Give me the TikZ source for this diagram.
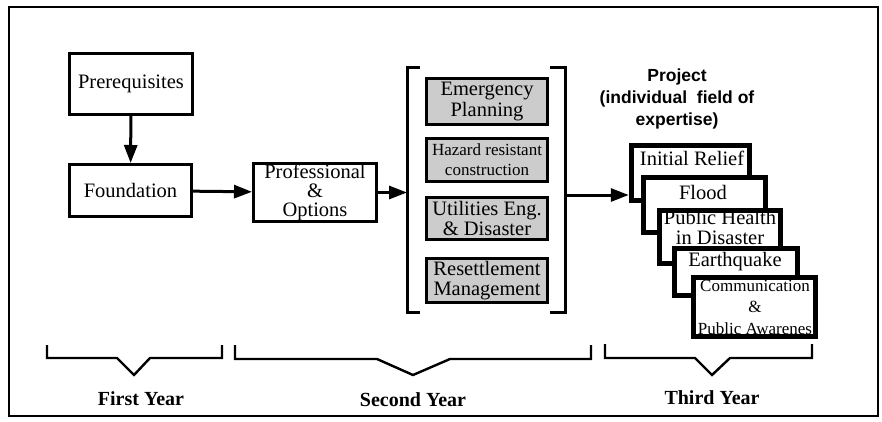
\documentclass[tikz,border=0pt]{standalone}
\usepackage{fontspec}
\setmainfont{Liberation Serif}
\newfontfamily\projfont{Liberation Sans}
\usetikzlibrary{arrows.meta}
\begin{document}
\begin{tikzpicture}[x=1pt,y=-1pt,
  box/.style={draw,line width=3pt,inner sep=0pt,align=center,font=\fontsize{20.5}{19}\selectfont},
  graybox/.style={draw,line width=3.5pt,fill=black!20,inner sep=0pt,align=center,minimum width=121pt},
  stackbox/.style={draw,line width=5.5pt,fill=white,inner sep=0pt},
  stacktext/.style={inner sep=0pt,align=center,font=\fontsize{20.5}{20}\selectfont},
  arr/.style={line width=3pt,-{Triangle[length=18pt,width=13pt]}},
  bracketline/.style={line width=3pt},
  brace/.style={line width=2.4pt,line join=miter},
  yearlabel/.style={font=\bfseries\fontsize{20}{24}\selectfont}
]
\useasboundingbox (0,0) rectangle (882,422);
\draw[line width=2.4pt] (9,7) rectangle (878,416);

% first year
\node[box,minimum width=123pt,minimum height=61pt] (pre) at (131,84) {Prerequisites};
\node[box,minimum width=122pt,minimum height=52pt] (fou) at (130.5,190.5) {Foundation};
\draw[arr] (pre) -- (fou);

% second year
\node[box,minimum width=123pt,minimum height=58pt] (pro) at (315,192.5) {Professional\\\&\\Options};
\draw[arr] (fou) -- (pro);

\node[graybox,minimum height=46pt,font=\fontsize{20.5}{21}\selectfont] (emg) at (487,101.5) {Emergency\\Planning};
\node[graybox,minimum height=43pt,font=\fontsize{17}{20}\selectfont] (haz) at (487,160) {Hazard resistant\\construction};
\node[graybox,minimum height=42pt,font=\fontsize{20.5}{20}\selectfont] (uti) at (487,218.5) {Utilities Eng.\\\& Disaster};
\node[graybox,minimum height=44pt,font=\fontsize{20.5}{20}\selectfont] (res) at (487,280.5) {Resettlement\\Management};

\draw[bracketline] (420,68) -- (407,68) -- (407,312) -- (420,312);
\draw[bracketline] (550,68) -- (565,68) -- (565,312) -- (550,312);
\coordinate (bl) at (407,192.5);
\coordinate (br) at (565,195);
\draw[arr] (pro.east) -- (bl);

% third year
\node[font=\projfont\bfseries\fontsize{17.5}{22}\selectfont,align=center] (proj) at (677,99) {Project\\(individual\ \ field of\\expertise)};

\node[stackbox,minimum width=118pt,minimum height=55pt] (s1) at (690.5,173) {};
\node[stackbox,minimum width=122pt,minimum height=55pt] (s2) at (704.5,205) {};
\node[stackbox,minimum width=121pt,minimum height=53pt] (s3) at (720,237) {};
\node[stackbox,minimum width=123pt,minimum height=47pt] (s4) at (736,272) {};
\node[stackbox,minimum width=122pt,minimum height=59pt] (s5) at (754.5,307) {};

\node[stacktext] (t1) at (692,158) {Initial Relief};
\node[stacktext] (t2) at (703,192) {Flood};
\node[stacktext] (t3) at (720,227) {Public Health\\in Disaster};
\node[stacktext] (t4) at (735,262) {Earthquake};
\node[stacktext,font=\fontsize{17}{21.5}\selectfont] (t5) at (755,307) {Communication\\\&\\Public Awarenes};

\draw[arr] (br) -- (s1.west |- br);

% braces
\draw[brace] (47,345) -- (47,358) -- (117,358) -- (134,375) -- (150,358) -- (222,358) -- (222,345);
\node[yearlabel] (y1) at (141,399) {First Year};
\draw[brace] (235,345) -- (235,359) -- (377,359) -- (413,375) -- (450,359) -- (591,359) -- (591,345);
\node[yearlabel] (y2) at (413,400) {Second Year};
\draw[brace] (605,344) -- (605,358) -- (695,358) -- (712,375) -- (730,358) -- (812,358) -- (812,344);
\node[yearlabel] (y3) at (712,398) {Third Year};
\end{tikzpicture}
\end{document}
